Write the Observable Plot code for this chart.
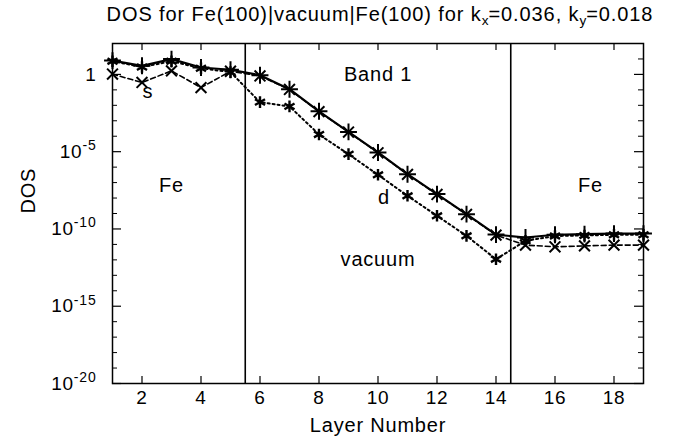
<!DOCTYPE html>
<html><head><meta charset="utf-8">
<script src="https://cdn.jsdelivr.net/npm/d3@7"></script>
<script src="https://cdn.jsdelivr.net/npm/@observablehq/plot@0.6"></script>
<style>
body{margin:0;background:#fff;font-family:"Liberation Sans",Arial,Helvetica,sans-serif;}
#title{height:28px;line-height:28px;font-size:20px;letter-spacing:0.9px;text-align:center;padding-left:76px;width:608px;white-space:nowrap;color:#000;}
#title sub{font-size:0.68em;line-height:0;vertical-align:-0.3em;letter-spacing:0;}
svg{display:block}
svg text{letter-spacing:0.8px}
</style></head><body>
<div id="title">DOS for Fe(100)|vacuum|Fe(100) for k<sub>x</sub>=0.036, k<sub>y</sub>=0.018</div>
<div id="chart"></div>
<script>
// Data
const layers = [1,2,3,4,5,6,7,8,9,10,11,12,13,14,15,16,17,18,19];
const dosTotal = [7.8, 3.6, 9.8, 2.8, 2.0, 0.89, 0.11, 4.1e-3, 1.9e-4, 8.9e-6, 3.5e-7, 1.8e-8, 9.1e-10, 4.3e-11, 2.8e-11, 4.2e-11, 4.6e-11, 5.0e-11, 5.0e-11];
const dosD = [7.1, 3.0, 7.1, 2.5, 1.4, 1.6e-2, 8.5e-3, 1.3e-4, 6.9e-6, 3.2e-7, 1.4e-8, 7.1e-10, 3.6e-11, 1.1e-12, 1.7e-11, 3.5e-11, 3.8e-11, 4.2e-11, 4.2e-11];
const dosS = [1.05, 0.30, 1.7, 0.14, 1.6, 0.79, 0.107, 3.9e-3, 1.86e-4, 8.5e-6, 3.4e-7, 1.7e-8, 8.7e-10, 4.0e-11, 9.0e-12, 7.0e-12, 8.0e-12, 9.0e-12, 9.0e-12];
const xTicks = [2,4,6,8,10,12,14,16,18];
const yMajorTicks = [1, 1e-5, 1e-10, 1e-15, 1e-20];
const yMinorTicks = [1e1, 1e-1, 1e-2, 1e-3, 1e-4, 1e-6, 1e-7, 1e-8, 1e-9, 1e-11, 1e-12, 1e-13, 1e-14, 1e-16, 1e-17, 1e-18, 1e-19];
const boundaries = [5.5, 14.5];
const noteText = ["Band 1", "Fe", "Fe", "vacuum", "d", "s"];
const noteX = [10, 3, 17.2, 10, 10.2, 2.2];
const noteY = [1, 6e-8, 6e-8, 1e-12, 1e-8, 8e-2];

const rows = layers.map((x, i) => ({x, total: dosTotal[i], d: dosD[i], s: dosS[i]}));
const notes = noteText.map((t, i) => ({t, x: noteX[i], y: noteY[i]}));

const W = 684, H = 413, mT = 15, mB = 58, mL = 112, mR = 41;
const innerH = H - mT - mB, innerW = W - mL - mR;
const font = '"Liberation Sans", Arial, Helvetica, sans-serif';

const chart = Plot.plot({
  width: W, height: H,
  marginTop: mT, marginBottom: mB, marginLeft: mL, marginRight: mR,
  style: {fontFamily: font, fontSize: "19px", background: "white", color: "black"},
  x: {domain: [1, 19]},
  y: {type: "log", domain: [1e-20, 1e2]},
  marks: [
    Plot.axisX(xTicks, {tickSize: 0, tickPadding: 7, fontSize: 19, label: null}),
    Plot.axisY(yMajorTicks, {tickSize: 0, tickPadding: 16, fontSize: 19, label: null,
      tickFormat: d => d === 1 ? "1" : "10^" + Math.round(Math.log10(d))}),
    Plot.tickX(xTicks, {x: d => d, insetTop: innerH - 7, strokeWidth: 1.2}),
    Plot.tickX(xTicks, {x: d => d, insetBottom: innerH - 7, strokeWidth: 1.2}),
    Plot.tickY(yMajorTicks, {y: d => d, insetRight: innerW - 9, strokeWidth: 1.2}),
    Plot.tickY(yMajorTicks, {y: d => d, insetLeft: innerW - 9, strokeWidth: 1.2}),
    Plot.tickY(yMinorTicks, {y: d => d, insetRight: innerW - 5, strokeWidth: 1}),
    Plot.tickY(yMinorTicks, {y: d => d, insetLeft: innerW - 5, strokeWidth: 1}),
    Plot.ruleX(boundaries, {x: d => d, stroke: "black", strokeWidth: 1.6}),
    Plot.line(rows, {x: "x", y: "s", stroke: "black", strokeWidth: 1.6, strokeDasharray: "5,3"}),
    Plot.line(rows, {x: "x", y: "d", stroke: "black", strokeWidth: 2, strokeDasharray: "2,3"}),
    Plot.line(rows, {x: "x", y: "total", stroke: "black", strokeWidth: 2.2}),
    Plot.dot(rows, {x: "x", y: "s", symbol: "times", r: 5, stroke: "black", strokeWidth: 2}),
    Plot.dot(rows, {x: "x", y: "d", symbol: "asterisk", r: 5.5, stroke: "black", strokeWidth: 2.4}),
    Plot.dot(rows, {x: "x", y: "total", symbol: "plus", r: 5.5, stroke: "black", strokeWidth: 2}),
    Plot.frame({stroke: "black", strokeWidth: 1.5}),
    Plot.text(notes, {x: "x", y: "y", text: "t", fontSize: 20, fill: "black"}),
    Plot.text(["Layer Number"], {text: d => d, frameAnchor: "bottom", dy: 42, lineAnchor: "middle", fontSize: 20, fill: "black"}),
    Plot.text(["DOS"], {text: d => d, frameAnchor: "left", dx: -84, rotate: -90, fontSize: 20, fill: "black"})
  ]
});

// Render exponent tick labels with superscripts
chart.querySelectorAll('g[aria-label="y-axis tick label"] text').forEach(t => {
  const s = t.textContent;
  if (s.startsWith("10^")) {
    const exp = s.slice(3);
    t.textContent = "";
    const ns = "http://www.w3.org/2000/svg";
    const base = document.createElementNS(ns, "tspan");
    base.textContent = "10";
    const sup = document.createElementNS(ns, "tspan");
    sup.textContent = exp;
    sup.setAttribute("dy", "-0.55em");
    sup.setAttribute("font-size", "14");
    t.appendChild(base);
    t.appendChild(sup);
  }
});
document.getElementById("chart").appendChild(chart);
</script></body></html>
